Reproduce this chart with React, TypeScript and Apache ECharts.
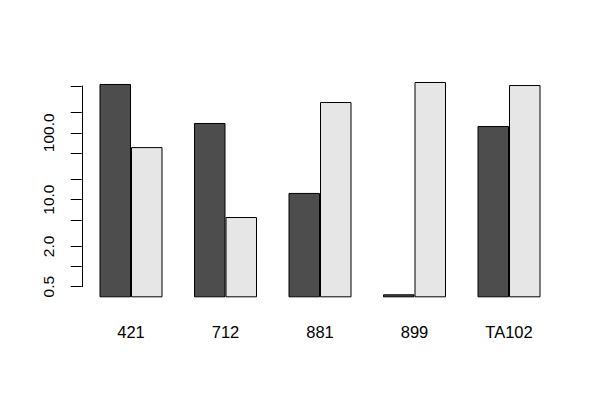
import React, { useEffect, useRef } from "react";
import * as echarts from "echarts";

const categories = ["421", "712", "881", "899", "TA102"];
const darkValues = [536, 140, 12.6, 0.385, 126];
const lightValues = [61, 5.5, 288, 574, 517];
const tickValues = [0.5, 1, 2, 5, 10, 20, 50, 100, 200, 500];
const labelValues = [0.5, 2, 10, 100];
const barBase = 0.347;

export default function App() {
  const ref = useRef<HTMLDivElement>(null);
  useEffect(() => {
    if (!ref.current) return;
    const chart = echarts.init(ref.current, null, { renderer: "svg" });
    const font = "Liberation Sans, Arial, Helvetica, sans-serif";
    chart.setOption({
      animation: false,
      backgroundColor: "#ffffff",
      grid: { left: 83.75, right: 43.75, top: 86, bottom: 113.3, containLabel: false },
      xAxis: {
        type: "category",
        data: categories,
        axisLine: { show: false },
        axisTick: { show: false },
        axisLabel: { margin: 37, fontSize: 16.5, color: "#000", fontFamily: font },
        splitLine: { show: false },
      },
      yAxis: {
        type: "log",
        logBase: 10,
        min: 0.5,
        max: 500,
        startValue: barBase,
        offset: 2,
        axisLine: { show: true, lineStyle: { color: "#000", width: 1 } },
        axisTick: { show: true, length: 11, lineStyle: { color: "#000", width: 1 }, customValues: tickValues },
        axisLabel: {
          show: true,
          rotate: 90,
          margin: 25,
          fontSize: 15.5,
          color: "#000",
          fontFamily: font,
          customValues: labelValues,
          formatter: (v: number) => Number(v).toFixed(1),
        },
        splitLine: { show: false },
      },
      series: [
        {
          type: "bar",
          data: darkValues,
          barWidth: 31.5,
          barGap: "0%",
          clip: false,
          itemStyle: { color: "#4d4d4d", borderColor: "#000", borderWidth: 1 },
        },
        {
          type: "bar",
          data: lightValues,
          barWidth: 31.5,
          barGap: "0%",
          clip: false,
          itemStyle: { color: "#e6e6e6", borderColor: "#000", borderWidth: 1 },
        },
      ],
    });
    return () => chart.dispose();
  }, []);
  return (
    <div
      ref={ref}
      style={{ position: "fixed", left: 0, top: 0, width: 600, height: 400, background: "#fff" }}
    />
  );
}
